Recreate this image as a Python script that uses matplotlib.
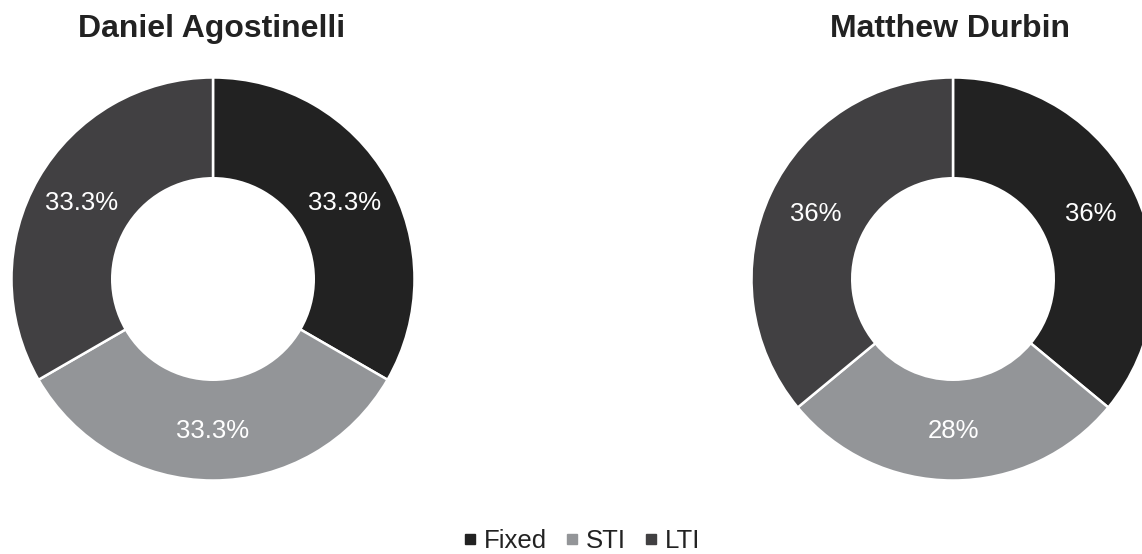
import matplotlib
matplotlib.use("Agg")
import matplotlib.pyplot as plt
from matplotlib.lines import Line2D
import numpy as np

plt.rcParams['font.family'] = ['Liberation Sans', 'DejaVu Sans']

categories = ["Fixed", "STI", "LTI"]
names = ["Daniel Agostinelli", "Matthew Durbin"]
values_agostinelli = [33.3, 33.3, 33.3]
values_durbin = [36, 28, 36]
labels_agostinelli = ["33.3%", "33.3%", "33.3%"]
labels_durbin = ["36%", "28%", "36%"]
colors = ["#222222", "#939598", "#414042"]

W, H = 1142, 554
fig = plt.figure(figsize=(W / 100, H / 100), dpi=100)

R = 201.5
centers = [(213, 279), (953, 279)]
series = [(values_agostinelli, labels_agostinelli), (values_durbin, labels_durbin)]
title_x = [211.5, 950]

for (cx, cy), (vals, labs), name, tx in zip(centers, series, names, title_x):
    ax = fig.add_axes([(cx - R) / W, (H - cy - R) / H, 2 * R / W, 2 * R / H])
    wedges, _ = ax.pie(vals, colors=colors, startangle=90, counterclock=False,
                       radius=1.0,
                       wedgeprops=dict(width=0.5, edgecolor="white", linewidth=1.8))
    total = sum(vals)
    ang = 90.0
    for v, lab in zip(vals, labs):
        mid = ang - v / total * 360 / 2
        ang -= v / total * 360
        r = 0.755
        ax.text(r * np.cos(np.radians(mid)), r * np.sin(np.radians(mid)), lab,
                ha="center", va="center", color="white", fontsize=18.5)
    ax.set_xlim(-1, 1)
    ax.set_ylim(-1, 1)
    ax.set_aspect("auto")
    ax.axis("off")
    fig.text(tx / W, (H - 37.3) / H, name, ha="center", va="baseline",
             fontsize=23, fontweight="bold", color="#222222")

handles = [Line2D([], [], marker="s", linestyle="none", markersize=6.5,
                  markerfacecolor=c, markeredgecolor=c) for c in colors]
fig.legend(handles, categories, loc="center", bbox_to_anchor=(583 / W, (H - 541) / H),
           ncol=3, frameon=False, fontsize=18.5, handlelength=0.35,
           handletextpad=0.35, columnspacing=0.82, borderpad=0, labelcolor="#222222")

fig.savefig("out.png", dpi=100)
